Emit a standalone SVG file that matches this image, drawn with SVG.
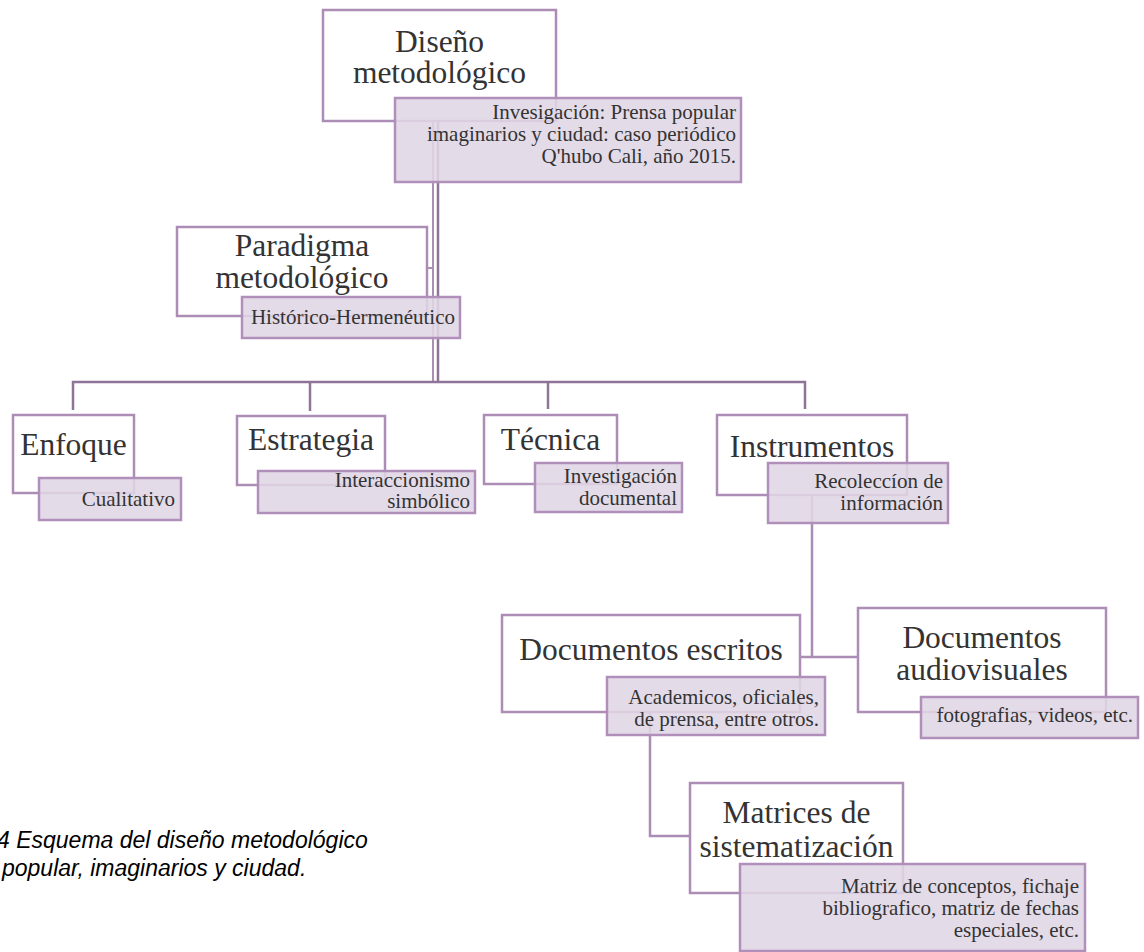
<svg xmlns="http://www.w3.org/2000/svg" width="1144" height="952" viewBox="0 0 1144 952">
<style>
.box{fill:#fff;stroke:#ad8db6;stroke-width:2.5}
.sub{fill:#e0d6e5;fill-opacity:0.88;stroke:#b08fba;stroke-width:2.5}
.t{font-family:"Liberation Serif","Times New Roman",serif;font-size:31.5px;fill:#333;text-anchor:middle}
.s{font-family:"Liberation Serif","Times New Roman",serif;font-size:21px;fill:#333;text-anchor:end}
.c{fill:none;stroke:#8f7499;stroke-width:2.5}
.c2{fill:none;stroke:#a890b0;stroke-width:2}
.c3{fill:none;stroke:#ab8cb4;stroke-width:2.5}
.cap{font-family:"Liberation Sans",Arial,sans-serif;font-style:italic;font-size:23px;fill:#000}
</style>
<rect width="1144" height="952" fill="#fff"/>
<g id="connectors">
<path class="c2" d="M433,121 V382"/>
<path class="c2" d="M433,268 H427"/>
<path class="c" d="M438,121 V382"/>
<path class="c" d="M73,410 V382 H805 V409"/>
<path class="c" d="M310,382 V411"/>
<path class="c" d="M548,382 V409"/>
<path class="c3" d="M812,495 V657"/>
<path class="c3" d="M800,657 H858"/>
<path class="c3" d="M650,712 V836 H690"/>
</g>
<g id="n-diseno">
<rect class="box" x="323" y="10" width="233" height="111"/>
<text class="t" x="439.5" y="52">Diseño</text>
<text class="t" x="439.5" y="83">metodológico</text>
<rect class="sub" x="395" y="98" width="346" height="84"/>
<text class="s" x="736" y="119">Invesigación: Prensa popular</text>
<text class="s" x="736" y="141">imaginarios y ciudad: caso periódico</text>
<text class="s" x="736" y="163">Q'hubo Cali, año 2015.</text>
</g>
<g id="n-paradigma">
<rect class="box" x="177" y="227" width="250" height="89"/>
<text class="t" x="302" y="256">Paradigma</text>
<text class="t" x="302" y="288">metodológico</text>
<rect class="sub" x="242" y="297" width="218" height="41"/>
<text class="s" x="455" y="324">Histórico-Hermenéutico</text>
</g>
<g id="n-enfoque">
<rect class="box" x="13" y="415" width="121" height="78"/>
<text class="t" x="73.5" y="455">Enfoque</text>
<rect class="sub" x="39" y="478" width="142" height="42"/>
<text class="s" x="175" y="506">Cualitativo</text>
</g>
<g id="n-estrategia">
<rect class="box" x="237" y="416" width="148" height="69"/>
<text class="t" x="311" y="450">Estrategia</text>
<rect class="sub" x="258" y="471" width="217" height="42"/>
<text class="s" x="470" y="487">Interaccionismo</text>
<text class="s" x="470" y="508">simbólico</text>
</g>
<g id="n-tecnica">
<rect class="box" x="484" y="415" width="133" height="69"/>
<text class="t" x="550.5" y="450">Técnica</text>
<rect class="sub" x="535" y="463" width="147" height="49"/>
<text class="s" x="677" y="483">Investigación</text>
<text class="s" x="677" y="505">documental</text>
</g>
<g id="n-instrumentos">
<rect class="box" x="717" y="415" width="190" height="80"/>
<text class="t" x="812" y="457">Instrumentos</text>
<rect class="sub" x="768" y="463" width="180" height="60"/>
<text class="s" x="943" y="488">Recoleccíon de</text>
<text class="s" x="943" y="510">información</text>
</g>
<g id="n-escritos">
<rect class="box" x="502" y="615" width="298" height="97"/>
<text class="t" x="651" y="660">Documentos escritos</text>
<rect class="sub" x="607" y="677" width="218" height="58"/>
<text class="s" x="819" y="704">Academicos, oficiales,</text>
<text class="s" x="819" y="726">de prensa, entre otros.</text>
</g>
<g id="n-audiovisuales">
<rect class="box" x="858" y="608" width="248" height="104"/>
<text class="t" x="982" y="648">Documentos</text>
<text class="t" x="982" y="680">audiovisuales</text>
<rect class="sub" x="921" y="697" width="217" height="41"/>
<text class="s" x="1133" y="722">fotografias, videos, etc.</text>
</g>
<g id="n-matrices">
<rect class="box" x="690" y="783" width="213" height="110"/>
<text class="t" x="796.5" y="823">Matrices de</text>
<text class="t" x="796.5" y="857">sistematización</text>
<rect class="sub" x="740" y="864" width="345" height="87"/>
<text class="s" x="1079" y="893">Matriz de conceptos, fichaje</text>
<text class="s" x="1079" y="915">bibliografico, matriz de fechas</text>
<text class="s" x="1079" y="937">especiales, etc.</text>
</g>
<g id="caption">
<text class="cap" x="-3" y="848">4 Esquema del diseño metodológico</text>
<text class="cap" x="2" y="876">popular, imaginarios y ciudad.</text>
</g>
</svg>
